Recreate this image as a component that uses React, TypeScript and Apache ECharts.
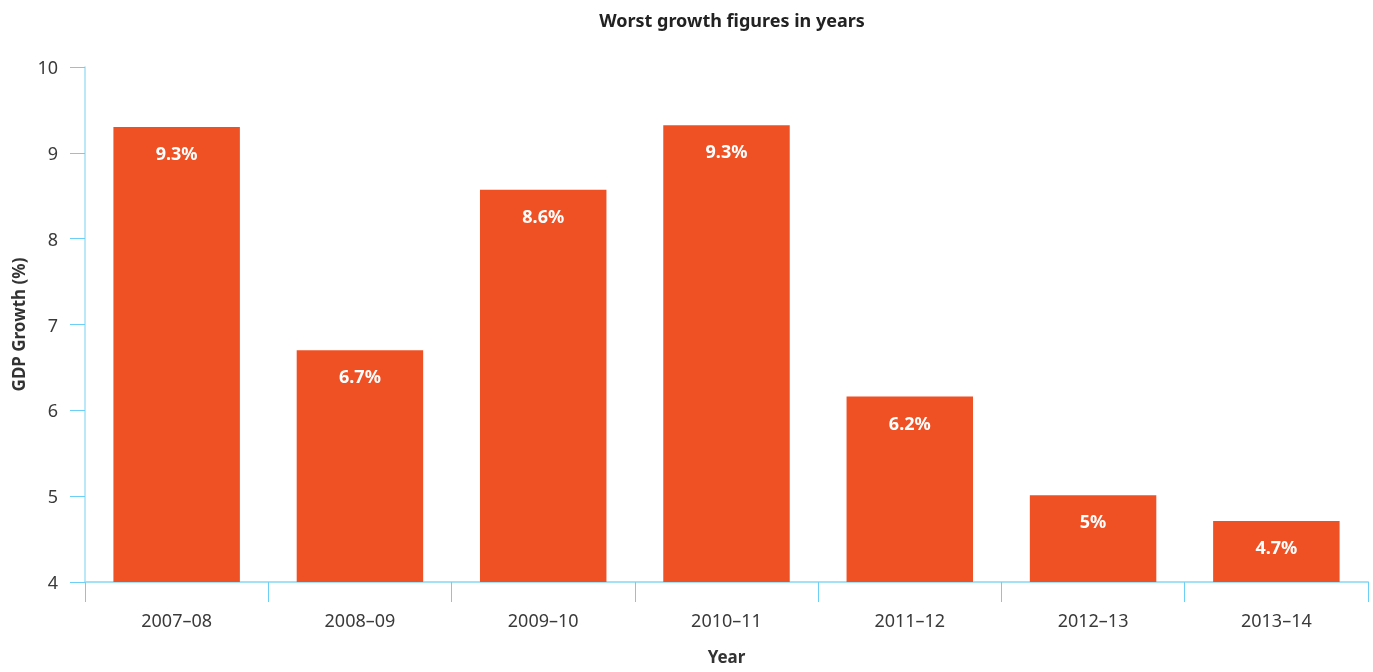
import React, { useEffect, useRef } from "react";
import * as echarts from "echarts";

const categories = ["2007–08", "2008–09", "2009–10", "2010–11", "2011–12", "2012–13", "2013–14"];
const growthValues = [9.3, 6.7, 8.57, 9.32, 6.16, 5.01, 4.71];
const growthLabels = ["9.3%", "6.7%", "8.6%", "9.3%", "6.2%", "5%", "4.7%"];
const yTicks = { min: 4, max: 10, interval: 1 };

const FONT = "'Noto Sans', 'Open Sans', sans-serif";
const AXIS_LINE_COLOR = "#a3e1f6";
const TICK_COLOR = "#6dcff6";

export default function App() {
  const ref = useRef<HTMLDivElement>(null);
  useEffect(() => {
    const chart = echarts.init(ref.current!, null, { renderer: "svg" });
    chart.setOption({
      animation: false,
      textStyle: { fontFamily: FONT },
      title: {
        text: "Worst growth figures in years",
        left: 727,
        textAlign: "center",
        top: 6,
        textStyle: { fontFamily: FONT, fontSize: 18, fontWeight: "bold", color: "#222" },
      },
      grid: { left: 85, right: 5, top: 67, bottom: 90, containLabel: false, outerBoundsMode: "none" },
      xAxis: {
        type: "category",
        data: categories,
        name: "Year",
        nameLocation: "middle",
        nameGap: 66,
        nameTextStyle: { fontFamily: FONT, fontSize: 17, fontWeight: "bold", color: "#333" },
        axisLine: { lineStyle: { color: AXIS_LINE_COLOR, width: 2 } },
        axisTick: { show: true, length: 20, lineStyle: { color: TICK_COLOR, width: 1 } },
        axisLabel: { fontFamily: FONT, fontSize: 18, color: "#3a3a3a", margin: 29 },
      },
      yAxis: {
        type: "value",
        min: yTicks.min,
        max: yTicks.max,
        interval: yTicks.interval,
        name: "GDP Growth (%)",
        nameLocation: "middle",
        nameGap: 58,
        nameTextStyle: { fontFamily: FONT, fontSize: 17, fontWeight: "bold", color: "#333" },
        axisLine: { show: true, lineStyle: { color: AXIS_LINE_COLOR, width: 1.5 } },
        axisTick: { show: true, length: 15, lineStyle: { color: TICK_COLOR, width: 1 } },
        splitLine: { show: false },
        axisLabel: { fontFamily: FONT, fontSize: 18, color: "#3a3a3a", margin: 27 },
      },
      series: [
        {
          type: "bar",
          data: growthValues,
          barCategoryGap: "31%",
          itemStyle: { color: "#f05124" },
          label: {
            show: true,
            position: "insideTop",
            distance: 17,
            formatter: (p: any) => growthLabels[p.dataIndex],
            color: "#fff",
            fontFamily: FONT,
            fontSize: 18,
            fontWeight: "bold",
          },
        },
      ],
    });
    return () => chart.dispose();
  }, []);
  return (
    <div
      ref={ref}
      style={{ position: "fixed", left: 0, top: 0, width: 1373, height: 672 }}
    />
  );
}
